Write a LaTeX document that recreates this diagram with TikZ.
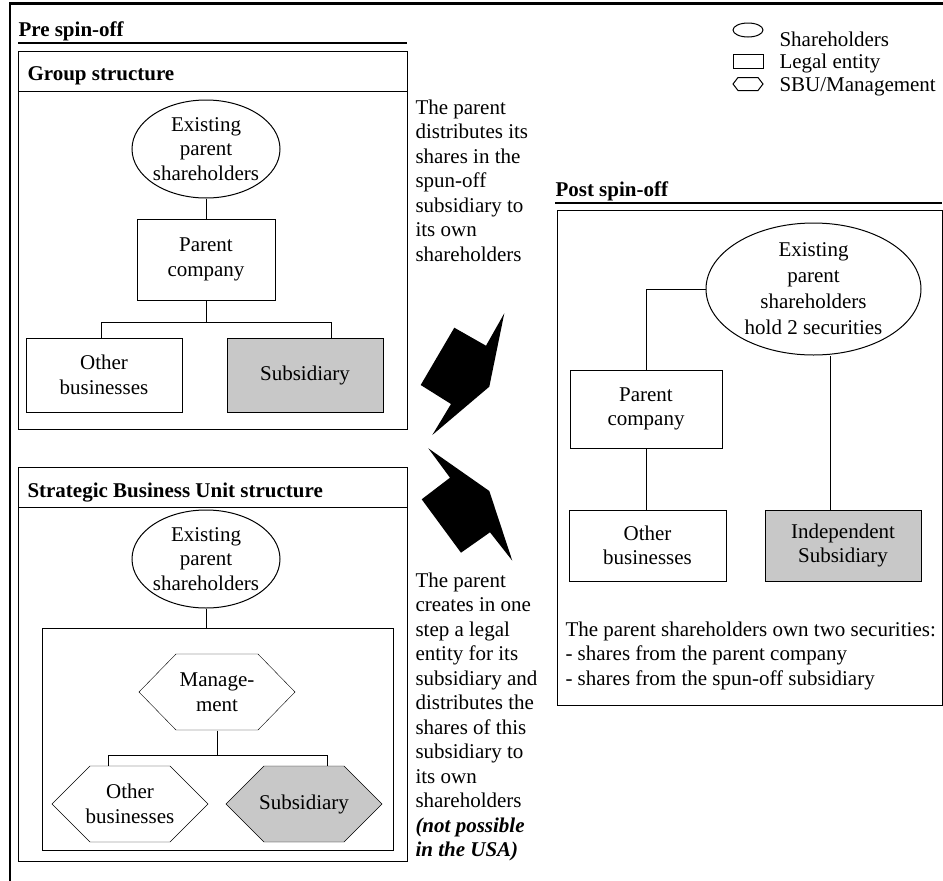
\documentclass[tikz,border=0pt]{standalone}
\usepackage{fontspec}
\setmainfont{Liberation Serif}
\usetikzlibrary{shapes.geometric,backgrounds}
\definecolor{subgray}{RGB}{200,200,200}
\newcommand{\hexoutline}[5]{%
  \filldraw[fill=#2] ([shift={(-#3,-#5)}]#1.center) -- ([shift={(#3,-#5)}]#1.center)
    -- ([shift={(#4,0)}]#1.center) -- ([shift={(#3,#5)}]#1.center)
    -- ([shift={(-#3,#5)}]#1.center) -- ([shift={(-#4,0)}]#1.center) -- cycle;}

\begin{document}
\begin{tikzpicture}[x=1pt,y=-1pt,line width=1pt,
    font=\fontsize{21}{24.5}\selectfont,
    every node/.style={inner sep=0pt,align=center},
    owners/.style={draw,ellipse,inner xsep=-5pt,minimum width=148pt,minimum height=98pt},
    entity/.style={draw,minimum width=156pt,minimum height=74pt},
    unit/.style={minimum width=80pt,minimum height=76pt},
    heading/.style={anchor=base west,font=\fontsize{21}{24.5}\selectfont\bfseries},
    note/.style={anchor=north west,align=left},
    rule/.style={line width=2pt}]
  \useasboundingbox (0,0) rectangle (943,881);
  \draw[line width=2.5pt] (943,3.5) -- (10,3.5) -- (10,881);

  \node[draw,ellipse,minimum width=30pt,minimum height=14pt] (key-sh) at (748,30) {};
  \node[anchor=base west] (key-sh-t) at (779,46) {Shareholders};
  \node[draw,minimum width=30pt,minimum height=14pt] (key-le) at (748,61) {};
  \node[anchor=base west] (key-le-t) at (779,68) {Legal entity};
  \coordinate (key-sbu) at (748,84);
  \hexoutline{key-sbu}{white}{10}{15}{6.5}
  \node[anchor=base west] (key-sbu-t) at (779,91) {SBU/Management};

  \node[heading] (pre) at (18,36.5) {Pre spin-off};
  \draw[rule] (18,42.5) -- (407,42.5);

  \draw (18,51) rectangle (407,429);
  \draw (18,91) -- (407,91);
  \node[heading] (grp) at (27,80) {Group structure};
  \node[owners] (grp-sh) at (206,149) {Existing\\parent\\shareholders};
  \node[entity,minimum width=138pt,minimum height=81pt] (grp-par) at (206,259.5) {Parent\\company};
  \node[entity] (grp-oth) at (104,375) {Other\\businesses};
  \node[entity,fill=subgray] (grp-sub) at (305,375) {Subsidiary};
  \draw (grp-sh) -- (grp-par);
  \draw (grp-par.south) -- ++(0,22) coordinate (grp-fork);
  \draw ([xshift=-3pt]grp-oth.north) |- (grp-fork) -| ([xshift=26pt]grp-sub.north);

  \draw (18,467) rectangle (407,861);
  \draw (18,507) -- (407,507);
  \node[heading] (sbu) at (27,497) {Strategic Business Unit structure};
  \node[owners] (sbu-sh) at (206,559) {Existing\\parent\\shareholders};
  \node[draw,minimum width=351pt,minimum height=222pt] (sbu-box) at (217.5,739) {};
  \node[unit] (sbu-mgt) at (217,692) {Manage-\\ment};
  \node[unit] (sbu-oth) at (130,804) {Other\\businesses};
  \node[unit] (sbu-sub) at (304,804) {Subsidiary};
  \begin{scope}[on background layer]
    \hexoutline{sbu-mgt}{white}{41}{78}{38}
    \hexoutline{sbu-oth}{white}{40}{78}{38}
    \hexoutline{sbu-sub}{subgray}{40}{78}{38}
  \end{scope}
  \draw (sbu-sh) -- (sbu-sh |- sbu-box.north);
  \draw (sbu-mgt.south) -- ++(0,25) coordinate (sbu-fork);
  \draw ([xshift=-22pt]sbu-oth.north) |- (sbu-fork) -| ([xshift=23pt]sbu-sub.north);

  \fill (454.3,327.7) -- (486,345.7) -- (504.3,313.3) -- (489.3,386.7) -- (432.3,435) -- (451,404) -- (420.7,385) -- cycle;
  \fill (428.3,448.3) -- (489.3,491) -- (512.3,560.7) -- (490,532.3) -- (461,552.7) -- (421.7,499.3) -- (450,477.7) -- cycle;

  \node[note] (step-top) at (415,99) {The parent\\distributes its\\shares in the\\spun-off\\subsidiary to\\its own\\shareholders};
  \node[note] (step-bot) at (415,572) {The parent\\creates in one\\step a legal\\entity for its\\subsidiary and\\distributes the\\shares of this\\subsidiary to\\its own\\shareholders\\\textbf{\textit{(not possible}}\\\textbf{\textit{in the USA)}}};

  \node[heading] (post) at (555,196.7) {Post spin-off};
  \draw[rule] (555,203.3) -- (942,203.3);
  \draw (557,210) rectangle (942,705);
  \node[owners,minimum width=215pt,minimum height=132pt,font=\fontsize{21}{26}\selectfont] (post-sh) at (813.5,289) {Existing\\parent\\shareholders\\hold 2 securities};
  \node[entity,minimum width=152pt,minimum height=78pt] (post-par) at (646,409) {Parent\\company};
  \node[entity,minimum width=157pt,minimum height=71pt] (post-oth) at (647.5,545.5) {Other\\businesses};
  \node[entity,minimum width=156pt,minimum height=71pt,fill=subgray] (post-sub) at (843,545.5) {Independent\\Subsidiary};
  \draw (post-sh.west) -| (post-par.north);
  \draw (post-par.south) -- (post-par.south |- post-oth.north);
  \draw ([xshift=-13pt]post-sub.north) -- ([xshift=-13pt]post-sub.north |- post-sh.south);
  \node[note] (post-note) at (565,621) {The parent shareholders own two securities:\\- shares from the parent company\\- shares from the spun-off subsidiary};
\end{tikzpicture}
\end{document}
